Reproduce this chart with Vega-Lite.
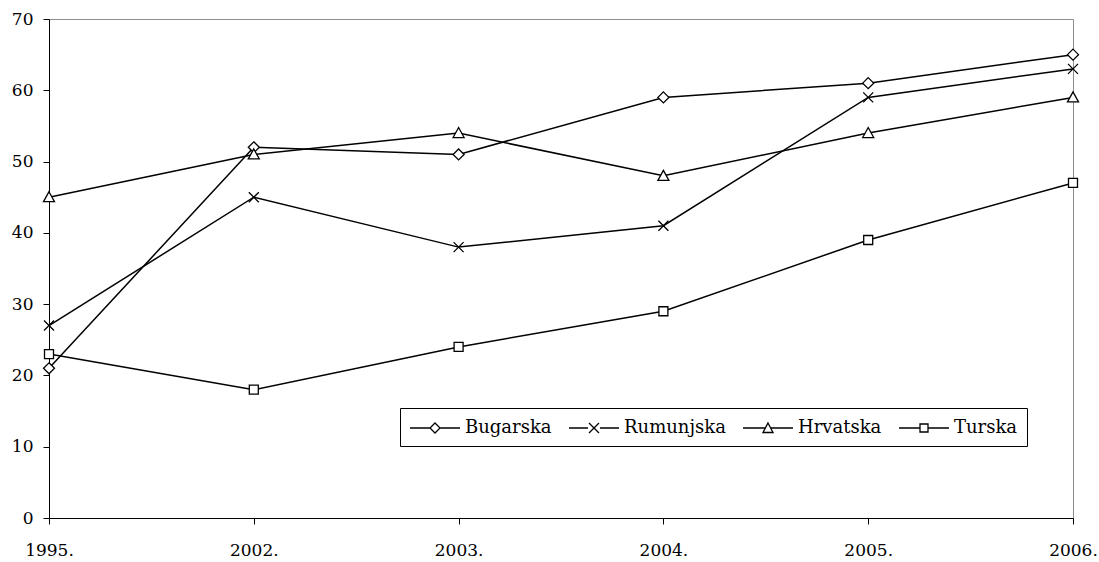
{
  "$schema": "https://vega.github.io/schema/vega-lite/v6.json",
  "width": 1024,
  "height": 499,
  "autosize": "none",
  "padding": {"left": 49, "top": 19, "right": 26, "bottom": 44},
  "background": "white",
  "config": {
    "view": {"stroke": "#8c8c8c", "strokeWidth": 1},
    "font": "DejaVu Serif",
    "axis": {
      "domainColor": "black",
      "domainWidth": 1,
      "tickColor": "black",
      "tickWidth": 1,
      "tickSize": 6,
      "labelFont": "DejaVu Serif",
      "labelFontSize": 17,
      "labelColor": "black",
      "grid": false,
      "title": null
    }
  },
  "data": {
    "values": [
      {"year": "1995.", "country": "Bugarska", "value": 21},
      {"year": "2002.", "country": "Bugarska", "value": 52},
      {"year": "2003.", "country": "Bugarska", "value": 51},
      {"year": "2004.", "country": "Bugarska", "value": 59},
      {"year": "2005.", "country": "Bugarska", "value": 61},
      {"year": "2006.", "country": "Bugarska", "value": 65},
      {"year": "1995.", "country": "Rumunjska", "value": 27},
      {"year": "2002.", "country": "Rumunjska", "value": 45},
      {"year": "2003.", "country": "Rumunjska", "value": 38},
      {"year": "2004.", "country": "Rumunjska", "value": 41},
      {"year": "2005.", "country": "Rumunjska", "value": 59},
      {"year": "2006.", "country": "Rumunjska", "value": 63},
      {"year": "1995.", "country": "Hrvatska", "value": 45},
      {"year": "2002.", "country": "Hrvatska", "value": 51},
      {"year": "2003.", "country": "Hrvatska", "value": 54},
      {"year": "2004.", "country": "Hrvatska", "value": 48},
      {"year": "2005.", "country": "Hrvatska", "value": 54},
      {"year": "2006.", "country": "Hrvatska", "value": 59},
      {"year": "1995.", "country": "Turska", "value": 23},
      {"year": "2002.", "country": "Turska", "value": 18},
      {"year": "2003.", "country": "Turska", "value": 24},
      {"year": "2004.", "country": "Turska", "value": 29},
      {"year": "2005.", "country": "Turska", "value": 39},
      {"year": "2006.", "country": "Turska", "value": 47}
    ]
  },
  "encoding": {
    "x": {
      "field": "year",
      "type": "ordinal",
      "sort": ["1995.", "2002.", "2003.", "2004.", "2005.", "2006."],
      "scale": {"type": "point", "padding": 0},
      "axis": {"labelAngle": 0, "labelPadding": 18, "labelBaseline": "top"}
    },
    "y": {
      "field": "value",
      "type": "quantitative",
      "scale": {"domain": [0, 70], "nice": false},
      "axis": {"values": [0, 10, 20, 30, 40, 50, 60, 70], "labelPadding": 10}
    }
  },
  "layer": [
    {
      "mark": {"type": "line", "color": "black", "strokeWidth": 1.5},
      "encoding": {"detail": {"field": "country", "type": "nominal"}}
    },
    {
      "mark": {"type": "point", "filled": true, "fill": "white", "stroke": "black", "strokeWidth": 1.3, "size": 100, "opacity": 1},
      "encoding": {
        "shape": {
          "field": "country",
          "type": "nominal",
          "scale": {
            "domain": ["Bugarska", "Rumunjska", "Hrvatska", "Turska"],
            "range": [
              "M0,-1.1L1.1,0L0,1.1L-1.1,0Z",
              "M-1,-1L1,1M-1,1L1,-1",
              "M0,-1.1L1.1,0.9L-1.1,0.9Z",
              "M-0.9,-0.9H0.9V0.9H-0.9Z"
            ]
          },
          "legend": null
        }
      }
    },
    {
      "transform": [{"filter": "false"}],
      "mark": {"type": "point", "filled": false, "color": "black", "strokeWidth": 1.3, "opacity": 1},
      "encoding": {
        "shape": {
          "field": "country",
          "type": "nominal",
          "scale": {
            "domain": ["Bugarska", "Rumunjska", "Hrvatska", "Turska"],
            "range": [
              "M-1,0H1M2,0H4M1.5,-0.5L2,0L1.5,0.5L1,0Z",
              "M-1,0H0.9M2.1,0H4M1,-0.5L2,0.5M1,0.5L2,-0.5",
              "M-1,0H1.24M1.76,0H4M1.5,-0.5L2,0.45L1,0.45Z",
              "M-1,0H1.1M1.9,0H4M1.1,-0.4H1.9V0.4H1.1Z"
            ]
          },
          "legend": {
            "orient": "none",
            "legendX": 351,
            "legendY": 389,
            "direction": "horizontal",
            "columns": 4,
            "title": null,
            "strokeColor": "black",
            "fillColor": "white",
            "padding": 9,
            "symbolSize": 400,
            "symbolStrokeWidth": 1.3,
            "symbolStrokeColor": "black",
            "symbolOpacity": 1,
            "labelFont": "DejaVu Serif",
            "labelFontSize": 18,
            "labelColor": "black",
            "labelOffset": 34,
            "columnPadding": 14,
            "labelLimit": 300
          }
        }
      }
    }
  ],
  "resolve": {"scale": {"shape": "independent"}, "legend": {"shape": "independent"}}
}
